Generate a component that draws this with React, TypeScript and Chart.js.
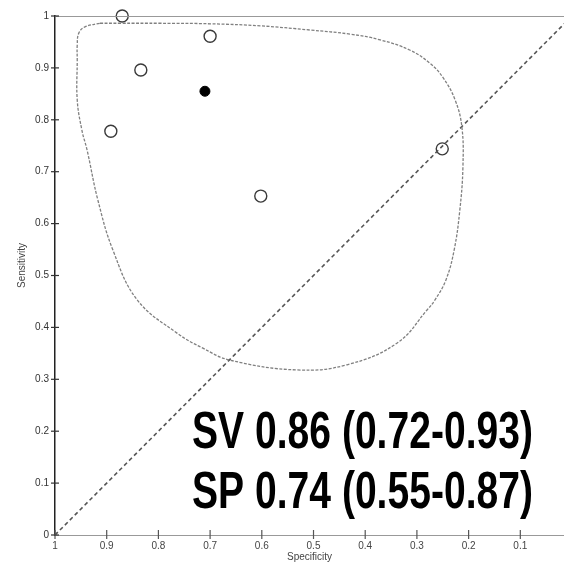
import React, { useEffect, useRef } from "react";
import { Chart, registerables } from "chart.js";
Chart.register(...registerables);

// Individual studies (open circles)
const studySpecificity = [0.870, 0.834, 0.892, 0.700, 0.602, 0.251];
const studySensitivity = [1.0, 0.896, 0.778, 0.961, 0.653, 0.744];

// Summary point (filled)
const summarySpecificity = [0.710];
const summarySensitivity = [0.855];

// Prediction region contour
const regionSpecificity = [
  0.913, 0.874, 0.797, 0.700, 0.603, 0.507, 0.429, 0.371, 0.313, 0.275, 0.250,
  0.226, 0.213, 0.211, 0.217, 0.228, 0.244, 0.265, 0.280, 0.338, 0.435, 0.532,
  0.662, 0.714, 0.764, 0.841, 0.888, 0.917, 0.938, 0.948, 0.957, 0.957, 0.957,
  0.954, 0.942, 0.913,
];
const regionSensitivity = [
  0.986, 0.986, 0.986, 0.985, 0.981, 0.973, 0.965, 0.954, 0.934, 0.909, 0.882,
  0.838, 0.786, 0.709, 0.626, 0.549, 0.491, 0.453, 0.434, 0.370, 0.328, 0.318,
  0.337, 0.360, 0.389, 0.453, 0.549, 0.645, 0.742, 0.780, 0.838, 0.915, 0.944,
  0.967, 0.979, 0.986,
];

// Chance line
const chanceSpecificity = [1, 0];
const chanceSensitivity = [0, 1];

const xTickValues = [1, 0.9, 0.8, 0.7, 0.6, 0.5, 0.4, 0.3, 0.2, 0.1];
const xTickLabels = ["1", "0.9", "0.8", "0.7", "0.6", "0.5", "0.4", "0.3", "0.2", "0.1"];
const yTickValues = [0, 0.1, 0.2, 0.3, 0.4, 0.5, 0.6, 0.7, 0.8, 0.9, 1];
const yTickLabels = ["0", "0.1", "0.2", "0.3", "0.4", "0.5", "0.6", "0.7", "0.8", "0.9", "1"];

const yTitle = "Sensitivity";
const annotationLines = ["SV 0.86 (0.72-0.93)", "SP 0.74 (0.55-0.87)"];

const zip = (xs: number[], ys: number[]) => xs.map((x, i) => ({ x, y: ys[i] }));

const axisDecor = {
  id: "axisDecor",
  afterDraw(chart: any) {
    const { ctx, chartArea, scales } = chart;
    ctx.save();
    // top border
    ctx.strokeStyle = "#999";
    ctx.lineWidth = 1;
    ctx.beginPath();
    ctx.moveTo(chartArea.left, chartArea.top + 0.5);
    ctx.lineTo(chart.width, chartArea.top + 0.5);
    ctx.stroke();
    // y tick marks crossing axis
    ctx.strokeStyle = "#333";
    ctx.lineWidth = 1.2;
    scales.y.ticks.forEach((t: any) => {
      const py = scales.y.getPixelForValue(t.value);
      ctx.beginPath();
      ctx.moveTo(chartArea.left - 4, py);
      ctx.lineTo(chartArea.left + 4, py);
      ctx.stroke();
    });
    // x tick marks crossing axis
    ctx.strokeStyle = "#555";
    scales.x.ticks.forEach((t: any) => {
      const px = scales.x.getPixelForValue(t.value);
      ctx.beginPath();
      ctx.moveTo(px, chartArea.bottom - 5);
      ctx.lineTo(px, chartArea.bottom + 4);
      ctx.stroke();
    });
    // y title
    ctx.save();
    ctx.font = '10px "Liberation Sans", Arial, sans-serif';
    ctx.fillStyle = "#444";
    ctx.textAlign = "center";
    ctx.textBaseline = "middle";
    ctx.translate(22, (chartArea.top + chartArea.bottom) / 2 - 10);
    ctx.rotate(-Math.PI / 2);
    ctx.fillText(yTitle, 0, 0);
    ctx.restore();
    ctx.restore();
  },
};

const annotationPlugin = {
  id: "annot",
  afterDraw(chart: any) {
    const { ctx, chartArea } = chart;
    ctx.save();
    ctx.font = 'bold 51px "Liberation Sans Narrow", "Liberation Sans", Arial, sans-serif';
    ctx.fillStyle = "#000";
    ctx.textBaseline = "alphabetic";
    ctx.textAlign = "left";
    const w = ctx.measureText(annotationLines[0]).width;
    const sx = 341 / w;
    const left = chartArea.left + 137;
    const baselines = [chartArea.top + 432, chartArea.top + 492];
    annotationLines.forEach((line, i) => {
      ctx.save();
      ctx.translate(left, baselines[i]);
      ctx.scale(sx, 1);
      ctx.fillText(line, 0, 0);
      ctx.restore();
    });
    ctx.restore();
  },
};

export default function App() {
  const ref = useRef<HTMLCanvasElement>(null);
  useEffect(() => {
    document.body.style.margin = "0";
    const tickFont = { family: '"Liberation Sans", Arial, sans-serif', size: 10 };
    const chart = new Chart(ref.current!, {
      type: "scatter",
      data: {
        datasets: [
          {
            label: "Prediction region",
            data: zip(regionSpecificity, regionSensitivity),
            showLine: true,
            borderColor: "#808080",
            borderWidth: 1.3,
            borderDash: [3, 1.5],
            tension: 0.4,
            pointRadius: 0,
            fill: false,
          },
          {
            label: "Chance",
            data: zip(chanceSpecificity, chanceSensitivity),
            showLine: true,
            borderColor: "#555",
            borderWidth: 1.6,
            borderDash: [4, 3],
            pointRadius: 0,
            clip: 0,
          },
          {
            label: "Studies",
            data: zip(studySpecificity, studySensitivity),
            pointStyle: "circle",
            pointRadius: 6,
            pointBorderWidth: 1.4,
            pointBorderColor: "#3a3a3a",
            pointBackgroundColor: "rgba(255,255,255,0)",
            clip: false,
          },
          {
            label: "Summary",
            data: zip(summarySpecificity, summarySensitivity),
            pointStyle: "circle",
            pointRadius: 5,
            pointBorderWidth: 1,
            pointBorderColor: "#000",
            pointBackgroundColor: "#000",
            clip: false,
          },
        ] as any,
      },
      options: {
        animation: false,
        responsive: false,
        layout: { autoPadding: false, padding: { top: 16, left: 0, right: 0, bottom: 0 } },
        plugins: { legend: { display: false }, tooltip: { enabled: false } },
        scales: {
          x: {
            type: "linear",
            reverse: true,
            min: 0.0155,
            max: 1,
            afterBuildTicks: (s: any) => {
              s.ticks = xTickValues.map((v) => ({ value: v }));
            },
            afterFit: (s: any) => {
              s.height = 31;
              s.paddingLeft = 0;
              s.paddingRight = 0;
            },
            grid: { display: false, drawTicks: false },
            border: { display: true, color: "#999", width: 1 },
            ticks: {
              padding: 5,
              color: "#444",
              font: tickFont,
              maxRotation: 0,
              autoSkip: false,
              callback: (_v: any, i: number) => xTickLabels[i],
            },
            title: {
              display: true,
              text: "Specificity",
              color: "#444",
              font: tickFont,
              padding: { top: 0, bottom: 3 },
            },
          },
          y: {
            type: "linear",
            min: 0,
            max: 1,
            afterBuildTicks: (s: any) => {
              s.ticks = yTickValues.map((v) => ({ value: v }));
            },
            afterFit: (s: any) => {
              s.width = 55;
            },
            grid: { display: false, drawTicks: false },
            border: { display: true, color: "#222", width: 1.5 },
            ticks: {
              padding: 6,
              color: "#333",
              font: tickFont,
              autoSkip: false,
              callback: (_v: any, i: number) => yTickLabels[i],
            },
            title: { display: false },
          },
        },
      } as any,
      plugins: [axisDecor, annotationPlugin],
    });
    return () => chart.destroy();
  }, []);
  return (
    <div style={{ position: "absolute", left: 0, top: 0, width: 564, height: 566, overflow: "hidden", background: "#fff" }}>
      <canvas ref={ref} width={564} height={566} style={{ display: "block" }} />
    </div>
  );
}
